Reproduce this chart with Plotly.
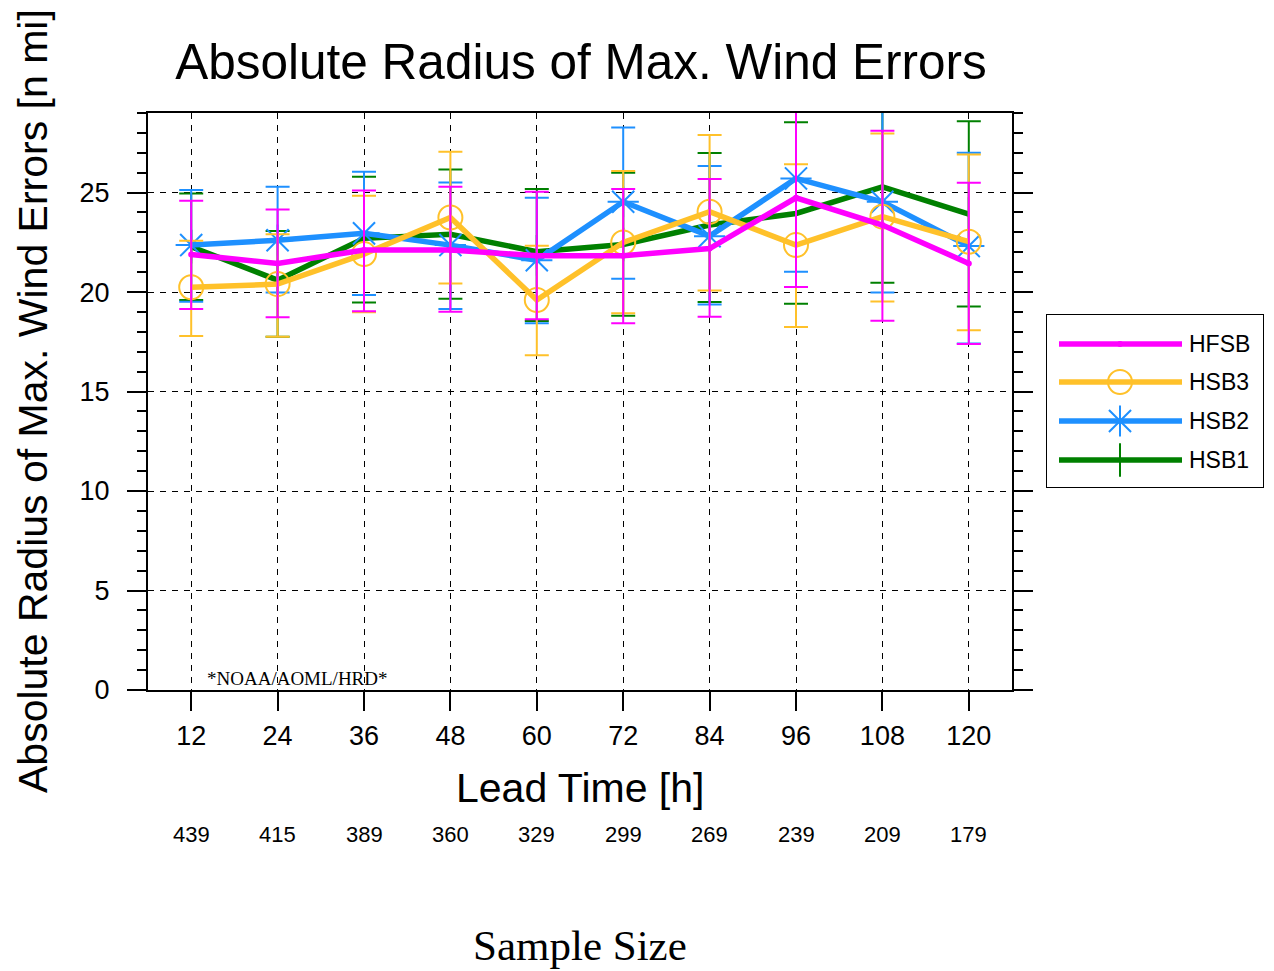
import plotly.graph_objects as go

# ---------------- data ----------------
lead_times = [12, 24, 36, 48, 60, 72, 84, 96, 108, 120]
sample_sizes = [439, 415, 389, 360, 329, 299, 269, 239, 209, 179]

hfsb_mean = [21.89, 21.44, 22.11, 22.11, 21.83, 21.83, 22.19, 24.74, 23.37, 21.44]
hfsb_upper = [24.59, 24.15, 25.11, 25.29, 25.04, 25.18, 25.68, 29.23, 28.11, 25.49]
hfsb_lower = [19.15, 18.73, 19.03, 19.01, 18.64, 18.43, 18.76, 20.25, 18.56, 17.39]

hsb3_mean = [20.24, 20.40, 21.91, 23.75, 19.60, 22.49, 24.04, 22.36, 23.79, 22.53]
hsb3_upper = [22.58, 22.91, 24.84, 27.05, 22.33, 26.08, 27.89, 26.42, 27.97, 26.92]
hsb3_lower = [17.79, 17.76, 18.98, 20.43, 16.83, 18.93, 20.08, 18.24, 19.53, 18.08]

hsb2_mean = [22.36, 22.61, 22.95, 22.36, 21.60, 24.54, 22.81, 25.71, 24.54, 22.31]
hsb2_upper = [25.13, 25.29, 26.05, 25.51, 24.74, 28.27, 26.33, 30.40, 29.10, 27.00]
hsb2_lower = [19.51, 19.98, 19.85, 19.15, 18.43, 20.67, 19.38, 21.02, 19.98, 17.42]

hsb1_mean = [22.28, 20.60, 22.70, 22.90, 22.03, 22.39, 23.37, 23.95, 25.29, 23.92]
hsb1_upper = [24.96, 23.07, 25.80, 26.16, 25.18, 26.00, 26.99, 28.53, 30.10, 28.59]
hsb1_lower = [19.60, 17.76, 19.48, 19.66, 18.54, 18.81, 19.50, 19.41, 20.47, 19.28]

series_names = ["HSB1", "HSB2", "HSB3", "HFSB"]
legend_order = ["HFSB", "HSB3", "HSB2", "HSB1"]

# ---------------- layout helpers ----------------
OFF = 8  # page body margin
W, H = 1274 - OFF, 971 - OFF
L = 148 - OFF
T = 113 - OFF
B = H - (690 - OFF)
R = 6
PW = W - L - R
PH = H - T - B


def px_x(p):
    return (p - OFF - L) / PW


def px_y(p):
    return (H - B - (p - OFF)) / PH


FONT = "Liberation Sans, Arial, sans-serif"
SERIF = "Liberation Serif, Times New Roman, serif"

styles = {
    "HFSB": dict(color="#FF00FF", symbol="circle", size=6, mlw=0),
    "HSB3": dict(color="#FFC12A", symbol="circle-open", size=24, mlw=2),
    "HSB2": dict(color="#1E90FF", symbol="asterisk-open", size=26, mlw=2),
    "HSB1": dict(color="#008000", symbol="line-ns-open", size=24, mlw=2),
}
data = {
    "HFSB": (hfsb_mean, hfsb_upper, hfsb_lower),
    "HSB3": (hsb3_mean, hsb3_upper, hsb3_lower),
    "HSB2": (hsb2_mean, hsb2_upper, hsb2_lower),
    "HSB1": (hsb1_mean, hsb1_upper, hsb1_lower),
}

fig = go.Figure()

for name in series_names:
    mean, up, lo = data[name]
    st = styles[name]
    fig.add_trace(go.Scatter(
        x=lead_times, y=mean, name=name, mode="lines+markers",
        line=dict(color=st["color"], width=5.5),
        marker=dict(symbol=st["symbol"], size=st["size"], color=st["color"],
                    line=dict(color=st["color"], width=st["mlw"])),
        error_y=dict(type="data", symmetric=False,
                     array=[u - m for u, m in zip(up, mean)],
                     arrayminus=[m - l for m, l in zip(mean, lo)],
                     color=st["color"], thickness=2, width=12),
        showlegend=False, xaxis="x", yaxis="y",
    ))

# ---------------- custom legend (in its own small axes) ----------------
LEG_L, LEG_R, LEG_T, LEG_B = 1047, 1263, 315, 487
row_y = [344, 382, 421, 460]
for name, ry in zip(legend_order, row_y):
    st = styles[name]
    fig.add_trace(go.Scatter(
        x=[1059, 1182], y=[ry, ry], mode="lines",
        line=dict(color=st["color"], width=5.5),
        showlegend=False, hoverinfo="skip", xaxis="x2", yaxis="y2"))
    fig.add_trace(go.Scatter(
        x=[1120], y=[ry], mode="markers",
        marker=dict(symbol=st["symbol"], size=st["size"],
                    color=st["color"], line=dict(color=st["color"], width=st["mlw"])),
        showlegend=False, hoverinfo="skip", xaxis="x2", yaxis="y2"))

annotations = []
for name, ry in zip(legend_order, row_y):
    annotations.append(dict(
        text=name, xref="paper", yref="paper", x=px_x(1187), y=px_y(ry),
        xanchor="left", yanchor="middle", showarrow=False,
        font=dict(family=FONT, size=23, color="black")))

# axis titles and labels
annotations.append(dict(
    text="Absolute Radius of Max. Wind Errors [n mi]", xref="paper", yref="paper",
    x=px_x(33), y=px_y(401), textangle=-90, xanchor="center", yanchor="middle",
    showarrow=False, font=dict(family=FONT, size=41, color="black")))
annotations.append(dict(
    text="Lead Time [h]", xref="paper", yref="paper", x=px_x(580), y=px_y(788),
    xanchor="center", yanchor="middle", showarrow=False,
    font=dict(family=FONT, size=41, color="black")))
for lt, n in zip(lead_times, sample_sizes):
    annotations.append(dict(
        text=str(n), xref="x", yref="paper", x=lt, y=px_y(834),
        xanchor="center", yanchor="middle", showarrow=False,
        font=dict(family=FONT, size=22, color="black")))
annotations.append(dict(
    text="Sample Size", xref="paper", yref="paper", x=px_x(580), y=px_y(945),
    xanchor="center", yanchor="middle", showarrow=False,
    font=dict(family=SERIF, size=43, color="black")))
annotations.append(dict(
    text="*NOAA/AOML/HRD*", xref="paper", yref="paper", x=px_x(205), y=px_y(678),
    xanchor="left", yanchor="middle", showarrow=False,
    font=dict(family=SERIF, size=19, color="black")))

fig.update_layout(
    width=W, height=H,
    margin=dict(l=L, r=R, t=T, b=B, pad=0),
    paper_bgcolor="white", plot_bgcolor="white",
    title=dict(text="Absolute Radius of Max. Wind Errors", x=(581 - OFF) / W, xanchor="center",
               xref="container", y=1 - (62 - OFF) / H, yanchor="middle",
               font=dict(family=FONT, size=49.5, color="black")),
    xaxis=dict(
        domain=[0, px_x(1012)], range=[6, 126], tickmode="array",
        tickvals=lead_times, ticktext=[str(v) for v in lead_times],
        showline=True, linecolor="black", linewidth=2, mirror=True,
        ticks="outside", ticklen=19, tickwidth=2, tickcolor="black",
        showgrid=True, gridcolor="black", gridwidth=1, griddash="6px,6px",
        zeroline=False, ticklabelstandoff=2,
        tickfont=dict(family=FONT, size=27, color="black"), anchor="y",
    ),
    yaxis=dict(
        domain=[0, 1], range=[0, 29], tickmode="array",
        tickvals=[0, 5, 10, 15, 20, 25], ticktext=["0", "5", "10", "15", "20", "25"],
        showline=True, linecolor="black", linewidth=2, mirror="allticks",
        ticks="outside", ticklen=19, tickwidth=2, tickcolor="black",
        minor=dict(dtick=1, tick0=0, ticks="outside", ticklen=9, tickwidth=1.5,
                   tickcolor="black", showgrid=False),
        showgrid=True, gridcolor="black", gridwidth=1, griddash="6px,6px",
        zeroline=False, ticklabelstandoff=12,
        tickfont=dict(family=FONT, size=27, color="black"), anchor="x",
    ),
    xaxis2=dict(
        domain=[px_x(LEG_L), px_x(LEG_R)], range=[LEG_L, LEG_R], anchor="y2",
        showline=True, linecolor="black", linewidth=1, mirror=True,
        showgrid=False, zeroline=False, showticklabels=False, ticks="", fixedrange=True,
    ),
    yaxis2=dict(
        domain=[px_y(LEG_B), px_y(LEG_T)], range=[LEG_B, LEG_T], anchor="x2",
        showline=True, linecolor="black", linewidth=1, mirror=True,
        showgrid=False, zeroline=False, showticklabels=False, ticks="", fixedrange=True,
    ),
    annotations=annotations,
    showlegend=False,
)

fig.write_html("out.html")
